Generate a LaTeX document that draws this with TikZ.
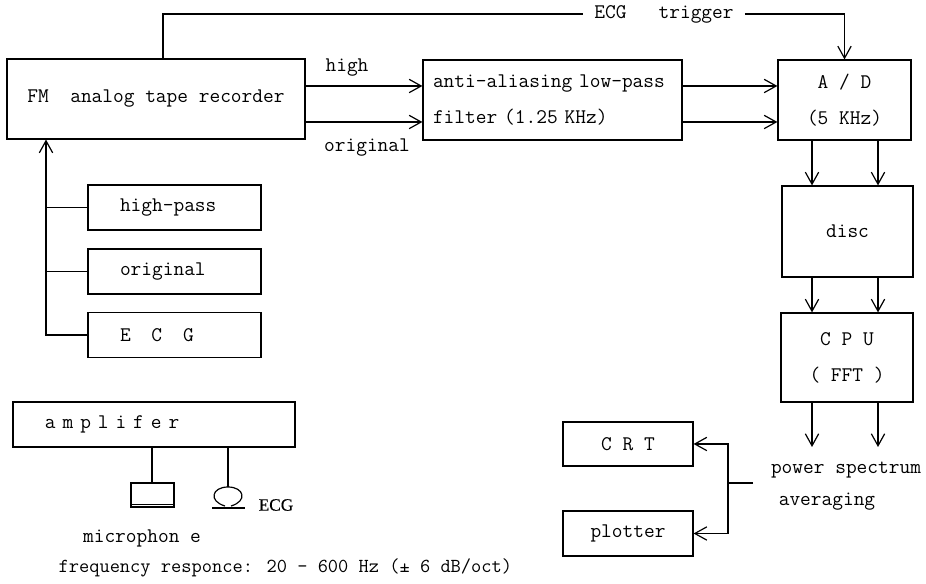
\documentclass[tikz,border=0pt]{standalone}
\usepackage{fontspec}
\newfontfamily\lblserif{Liberation Serif}
\usetikzlibrary{arrows.meta}

\newcommand{\typefont}[1]{\ttfamily\fontsize{#1}{27}\selectfont\addfontfeature{FakeBold=0.5}}
\tikzset{
  box/.style={draw, inner sep=0pt, font=\typefont{15.6}},
  lbl/.style={inner sep=0.75pt, font=\typefont{15.6}},
  arr/.style={-{Straight Barb[length=9pt,width=10pt]}}
}

\begin{document}
\begin{tikzpicture}[x=0.75pt,y=0.75pt,yscale=-1,xscale=1,line width=0.9pt]
\useasboundingbox (0,0) rectangle (926,584);

%Shape: Boxes
\node[box, minimum width=223.5pt, minimum height=60pt] (fm) at (156,99) {FM\ \ analog tape recorder};
\node[box, align=left, text width=179.25pt, inner xsep=7.5pt, minimum height=60pt] (filt) at (552.5,100) {anti-aliasing low-pass\\filter (1.25 KHz)};
\node[box, align=center, minimum width=99.75pt, minimum height=60pt] (ad) at (844.5,100) {A / D\\(5 KHz)};
\node[box, minimum width=98.25pt, minimum height=68.25pt] (disc) at (847.5,231.5) {disc};
\node[box, align=center, minimum width=99pt, minimum height=66.75pt] (cpu) at (847,357.5) {C P U\\( FFT )};
\node[box, minimum width=97.5pt, minimum height=33pt] (crt) at (628,444) {C R T};
\node[box, minimum width=97.5pt, minimum height=33.75pt] (plot) at (628,533.5) {plotter};
\node[box, align=left, text width=81.75pt, inner xsep=24pt, minimum height=33.75pt] (hp) at (174.5,207.5) {high-pass};
\node[box, align=left, text width=81.75pt, inner xsep=24pt, minimum height=33.75pt] (orig) at (174.5,271.5) {original};
\node[box, align=left, text width=81.75pt, inner xsep=24pt, minimum height=33.75pt] (ecgin) at (174.5,335) {E\ \ \ C\ \ \ G};
\node[box, align=left, text width=163.5pt, inner xsep=24pt, minimum height=33.75pt] (amp) at (154,424.5) {a m p l i f e r};
\node[draw, inner sep=0pt, minimum width=32.25pt, minimum height=18pt] (mic) at (152.5,495) {};

% Text Node
\node[lbl, inner xsep=8pt] (trig) at (664,14) {ECG\ \ \ trigger};
\node[lbl] (high) at (347,68) {high};
\node[lbl] (orgl) at (367,148) {original};
\node[lbl] (ps) at (846,470) {power spectrum};
\node[lbl] (avg) at (827,502) {averaging};
\node[lbl] (mictxt) at (142,538) {microphon e};
\node[inner sep=0.75pt, font=\lblserif\fontsize{13}{15}\selectfont\addfontfeature{FakeBold=0.5}] (ecgtxt) at (276,505) {ECG};
\node[lbl, anchor=west, font=\typefont{14.9}] (freq) at (57,568) {frequency responce: 20 - 600 Hz (± 6 dB/oct)};

%Straight Lines: trigger
\draw (fm.north -| 163,0) |- (trig.west);
\draw[arr] (trig.east) -| (ad.north);

%Straight Lines: signal path
\draw[arr] (fm.east |- 0,86) -- (filt.west |- 0,86);
\draw[arr] (fm.east |- 0,122) -- (filt.west |- 0,122);
\draw[arr] (filt.east |- 0,86) -- (ad.west |- 0,86);
\draw[arr] (filt.east |- 0,122) -- (ad.west |- 0,122);
\foreach \xx in {812,878} {
  \draw[arr] (ad.south -| \xx,0) -- (disc.north -| \xx,0);
  \draw[arr] (disc.south -| \xx,0) -- (cpu.north -| \xx,0);
  \draw[arr] (cpu.south -| \xx,0) -- (\xx,447);
}

%Straight Lines: output
\coordinate (out) at (753,483);
\coordinate (split) at (728,483);
\draw (out) -- (split);
\draw[arr] (split) |- (crt.east);
\draw[arr] (split) |- (plot.east);

%Straight Lines: inputs
\draw[arr] (ecgin.west) -| (fm.south -| 46,0);
\draw (hp.west) -- (hp.west -| 46,0);
\draw (orig.west) -- (orig.west -| 46,0);

%Shape: microphone and electrode
\draw (amp.south -| 152,0) -- (mic.north -| 152,0);
\draw ([yshift=-2.2pt]mic.south west) -- ([yshift=-2.2pt]mic.south east);
\coordinate (el) at (228,487);
\draw (amp.south -| 228,0) -- (el);
\draw (225,506) .. controls (208,501) and (212,487) .. (el) .. controls (244,487) and (248,501) .. (231,506);
\draw (212,508) -- (245,508);

\end{tikzpicture}
\end{document}
